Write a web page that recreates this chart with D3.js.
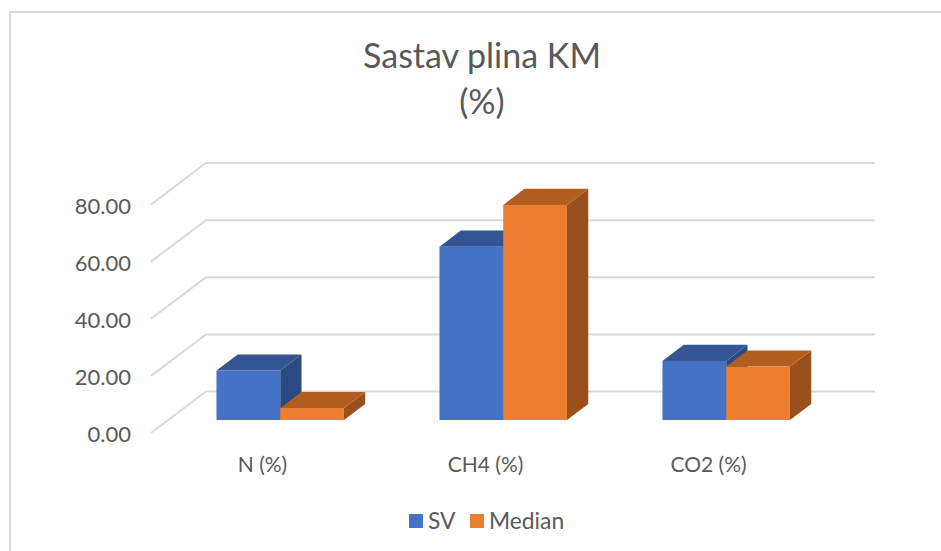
<!DOCTYPE html>
<html><head><meta charset="utf-8">
<style>html,body{margin:0;padding:0;background:#fff}svg{display:block}text{font-family:Lato,"Open Sans",sans-serif}</style>
<script src="https://cdn.jsdelivr.net/npm/d3@7"></script></head><body>
<script>
const categories = ["N (%)", "CH4 (%)", "CO2 (%)"];
const seriesNames = ["SV", "Median"];
const svValues = [17.3, 60.7, 20.7];
const medianValues = [4.2, 75.3, 18.7];
const tickValues = [0, 20, 40, 60, 80];
const frontColors = ["#4472c4", "#ed7d31"];
const topColors = ["#335593", "#b25e20"];
const sideColors = ["#2a4a80", "#99501c"];

const W = 941, H = 551;
const svg = d3.select("body").append("svg").attr("width", W).attr("height", H);

svg.append("path").attr("d", d3.line()([[10, H], [10, 12], [W, 12]]))
  .attr("fill", "none").attr("stroke", "#d9d9d9").attr("stroke-width", 2);

const x = d3.scaleBand().domain(categories).range([151, 820]);
const xInner = d3.scaleBand().domain(seriesNames).range([0, 127.5]);
const y = d3.scaleLinear().domain([0, 80]).range([433, 204.5]);
// oblique projection: depth 0 = front plane, 1 = back wall
const DX = 55, DY = -41.5;
const px = (a, d) => a + DX * d, py = (b, d) => b + DY * d;
const D0 = 0.313, D1 = 0.70;

const grid = svg.append("g");
tickValues.forEach(t => {
  grid.append("path")
    .attr("d", d3.line()([[px(x.range()[0], 0), py(y(t), 0)], [px(x.range()[0], 1), py(y(t), 1)], [px(x.range()[1], 1), py(y(t), 1)]]))
    .attr("fill", "none").attr("stroke", "#d9d9d9").attr("stroke-width", 2);
});

const rows = categories.map((c, i) => ({c, vals: [svValues[i], medianValues[i]]}));
const pts = a => a.map(p => p.join(",")).join(" ");
const bars = svg.append("g");
rows.forEach(r => {
  const x0 = x(r.c) + (x.bandwidth() - xInner.range()[1]) / 2 + 0.5;
  r.vals.forEach((v, s) => {
    const l = x0 + xInner(seriesNames[s]), rr = l + xInner.bandwidth();
    const t = y(v), b = y(0);
    const g = bars.append("g");
    g.append("polygon").attr("fill", sideColors[s]).attr("points", pts([
      [px(rr, D0), py(b, D0)], [px(rr, D1), py(b, D1)], [px(rr, D1), py(t, D1)], [px(rr, D0), py(t, D0)]]));
    g.append("polygon").attr("fill", topColors[s]).attr("points", pts([
      [px(l, D0), py(t, D0)], [px(rr, D0), py(t, D0)], [px(rr, D1), py(t, D1)], [px(l, D1), py(t, D1)]]));
    g.append("rect").attr("x", px(l, D0)).attr("y", py(t, D0)).attr("width", rr - l).attr("height", b - t).attr("fill", frontColors[s]);
  });
  svg.append("text").attr("x", x(r.c) + x.bandwidth() / 2).attr("y", 471.5)
    .attr("text-anchor", "middle").attr("font-size", 21).attr("fill", "#595959").text(r.c);
});

svg.append("g").selectAll("text").data(tickValues).join("text")
  .attr("x", 131).attr("y", d => y(d) + 9).attr("text-anchor", "end")
  .attr("font-size", 22).attr("fill", "#595959").text(d => d3.format(".2f")(d));

const title = svg.append("text").attr("text-anchor", "middle").attr("fill", "#595959").attr("font-size", 34);
title.append("tspan").attr("x", 482).attr("y", 68).text("Sastav plina KM");
title.append("tspan").attr("x", 482).attr("y", 114).text("(%)");

const legendX = [409, 470];
seriesNames.forEach((n, i) => {
  svg.append("rect").attr("x", legendX[i]).attr("y", 514).attr("width", 14).attr("height", 14).attr("fill", frontColors[i]);
  svg.append("text").attr("x", legendX[i] + 19).attr("y", 529).attr("font-size", 22.8).attr("fill", "#595959").text(n);
});
</script></body></html>
